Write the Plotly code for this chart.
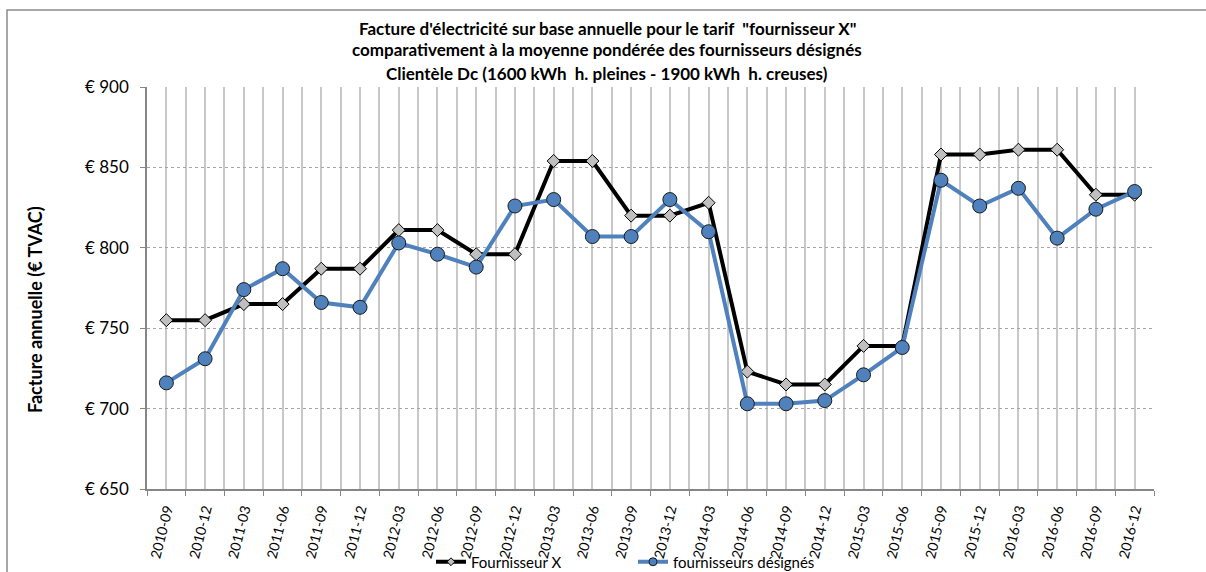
import plotly.graph_objects as go

periods = ["2010-09", "2010-12", "2011-03", "2011-06", "2011-09", "2011-12",
           "2012-03", "2012-06", "2012-09", "2012-12", "2013-03", "2013-06",
           "2013-09", "2013-12", "2014-03", "2014-06", "2014-09", "2014-12",
           "2015-03", "2015-06", "2015-09", "2015-12", "2016-03", "2016-06",
           "2016-09", "2016-12"]

fournisseur_x = [755, 755, 765, 765, 787, 787, 811, 811, 796, 796, 854, 854,
                 820, 820, 828, 723, 715, 715, 739, 739, 858, 858, 861, 861,
                 833, 833]

fournisseurs_designes = [716, 731, 774, 787, 766, 763, 803, 796, 788, 826, 830, 807,
                         807, 830, 810, 703, 703, 705, 721, 738, 842, 826, 837, 806,
                         824, 835]

y_ticks = [650, 700, 750, 800, 850, 900]
y_ticktext = ["€ " + str(v) for v in y_ticks]

title_lines = [
    "Facture d'électricité sur base annuelle pour le tarif  \"fournisseur X\"",
    "comparativement à la moyenne pondérée des fournisseurs désignés",
    "Clientèle Dc (1600 kWh  h. pleines - 1900 kWh  h. creuses)",
]

FONT = "Lato, Carlito, Calibri, sans-serif"
W, H = 1206, 572
L, R, T, B = 147, 52, 87, 83
PW, PH = W - L - R, H - T - B

def px_x(p):
    return (p - L) / PW

def px_y(p):
    return (H - B - p) / PH

xs = list(range(len(periods)))

BLACK_LINE = dict(color="#000000", width=4)
BLUE_LINE = dict(color="#4F81BD", width=4)

fig = go.Figure()
fig.add_trace(go.Scatter(
    x=xs, y=fournisseur_x, name="Fournisseur X", mode="lines+markers",
    line=BLACK_LINE, showlegend=False, legendgroup="a",
    marker=dict(symbol="diamond", size=10, color="#BFBFBF",
                line=dict(color="#000000", width=1)),
))
fig.add_trace(go.Scatter(
    x=xs, y=fournisseurs_designes, name="fournisseurs désignés", mode="lines+markers",
    line=BLUE_LINE, showlegend=False, legendgroup="b",
    marker=dict(symbol="circle", size=14, color="#4F81BD",
                line=dict(color="#1a1a1a", width=1)),
))
# legend entries (smaller symbols, as in the reference legend)
fig.add_trace(go.Scatter(
    x=[None], y=[None], name="Fournisseur X", mode="lines+markers",
    line=BLACK_LINE, legendgroup="a",
    marker=dict(symbol="diamond", size=6, color="#BFBFBF",
                line=dict(color="#000000", width=1)),
))
fig.add_trace(go.Scatter(
    x=[None], y=[None], name="fournisseurs désignés", mode="lines+markers",
    line=BLUE_LINE, legendgroup="b",
    marker=dict(symbol="circle", size=8, color="#4F81BD",
                line=dict(color="#1a1a1a", width=1)),
))

annotations = []
for t, py in zip(title_lines, [28, 50, 73]):
    annotations.append(dict(
        text="<b>" + t + "</b>", x=px_x(607), y=px_y(py), xref="paper", yref="paper",
        xanchor="center", yanchor="middle", showarrow=False,
        font=dict(family=FONT, size=17, color="#000000")))
annotations.append(dict(
    text="<b>Facture annuelle (€ TVAC)</b>", x=px_x(35), y=px_y(310),
    xref="paper", yref="paper", xanchor="center", yanchor="middle",
    textangle=-90, showarrow=False, font=dict(family=FONT, size=18, color="#000000")))

fig.update_layout(
    width=W, height=H, autosize=False,
    margin=dict(l=L, r=R, t=T, b=B, pad=0, autoexpand=False),
    paper_bgcolor="#FFFFFF", plot_bgcolor="#FFFFFF",
    showlegend=True,
    legend=dict(orientation="h", x=px_x(431), y=px_y(562), xanchor="left", yanchor="middle",
                font=dict(family=FONT, size=15, color="#000000"),
                bgcolor="rgba(0,0,0,0)", itemsizing="trace", tracegroupgap=0,
                entrywidth=157, entrywidthmode="pixels"),
    annotations=annotations,
    shapes=[dict(type="rect", xref="paper", yref="paper",
                 x0=px_x(7), x1=px_x(1260), y0=px_y(10), y1=px_y(640),
                 line=dict(color="#8C8C8C", width=1.5), fillcolor="rgba(0,0,0,0)",
                 layer="below")],
)

fig.update_xaxes(
    range=[-0.5, len(periods) - 0.5],
    tickmode="array", tickvals=xs, ticktext=periods,
    tickangle=-76, ticks="", ticklabelstandoff=5,
    tickfont=dict(family=FONT, size=14, color="#000000"),
    showgrid=True, gridcolor="#C8C8C8", gridwidth=1.5,
    minor=dict(tick0=-0.5, dtick=1, ticks="outside", ticklen=5, tickcolor="#868686",
               showgrid=True, gridcolor="#C8C8C8", gridwidth=1.5),
    showline=True, linecolor="#868686", linewidth=1.5,
    zeroline=False, fixedrange=True,
)
fig.update_yaxes(
    range=[650, 900],
    tickmode="array", tickvals=y_ticks, ticktext=y_ticktext,
    ticks="outside", ticklen=5, tickcolor="#868686", ticklabelstandoff=8,
    tickfont=dict(family=FONT, size=17, color="#000000"),
    showgrid=True, gridcolor="#A6A6A6", gridwidth=1, griddash="dot",
    showline=True, linecolor="#868686", linewidth=1.5,
    zeroline=False, fixedrange=True,
)

post = (
    "document.documentElement.style.margin='0';"
    "document.body.style.margin='0';document.body.style.padding='0';"
    "var gd=document.getElementById('{plot_id}');"
    "gd.style.width='1206px';gd.style.height='572px';"
    "Plotly.relayout(gd,{width:1206,height:572,autosize:false});"
)

fig.write_html("out.html", config={"responsive": False, "displayModeBar": False},
               post_script=post)
